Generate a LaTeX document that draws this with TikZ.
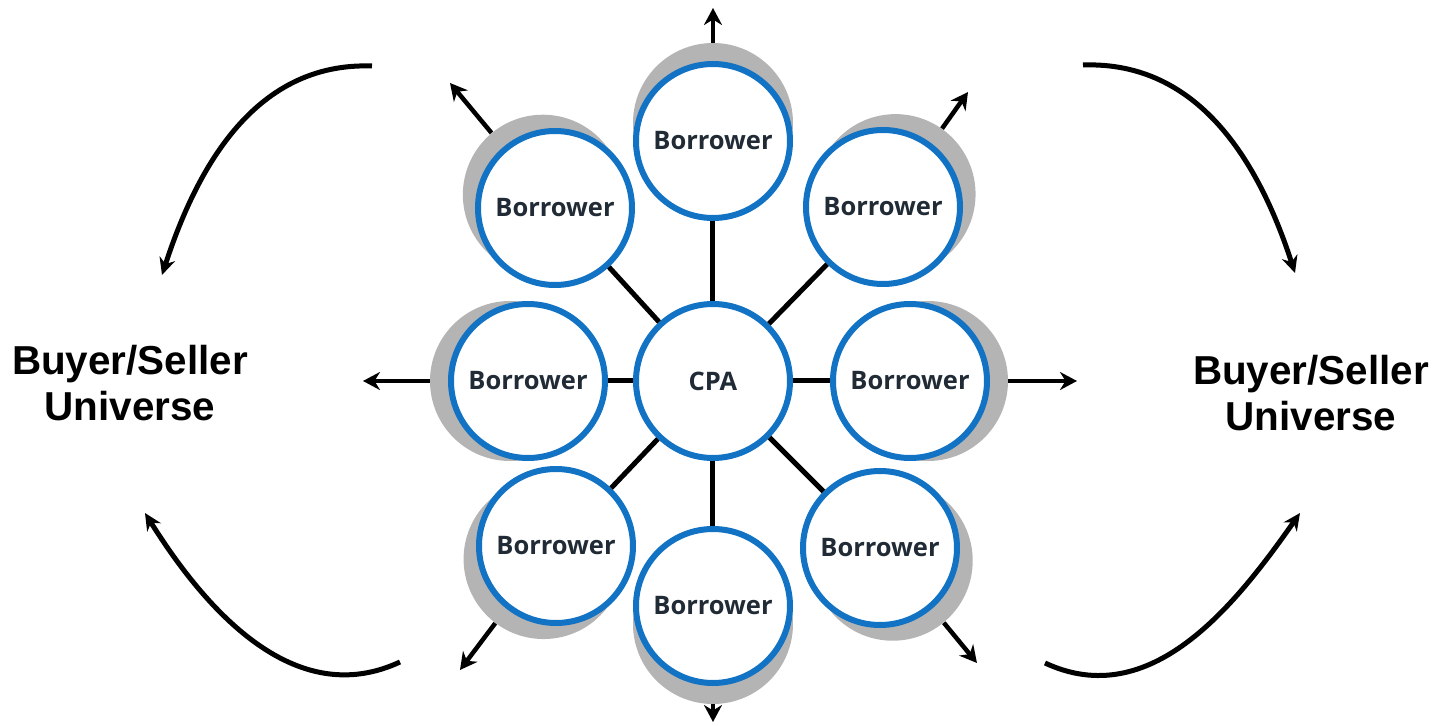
\documentclass[tikz,border=0pt]{standalone}
\usepackage{fontspec}
\setmainfont{Liberation Sans}
\newfontfamily\borrowerfont{Open Sans}
\usepackage{tikz}
\usetikzlibrary{arrows.meta,calc,positioning}
\definecolor{ringblue}{RGB}{18,114,196}
\definecolor{halogray}{RGB}{180,180,180}
\definecolor{labelink}{RGB}{33,43,54}
\tikzset{
  party/.style={circle,draw=ringblue,line width=.12cm,fill=white,
    minimum size=3.08cm,inner sep=0pt,text=labelink,
    font=\borrowerfont\bfseries\fontsize{14.5}{16}\selectfont},
  halo/.style={circle,fill=halogray,minimum size=3.2cm,inner sep=0pt},
  spoke/.style={line width=.1cm},
  outflow/.style={-{Stealth[length=.34cm,width=.36cm]},line width=.09cm},
  swing/.style={-{Stealth[length=.34cm,width=.32cm]},line width=.1cm},
  universe/.style={align=center,font=\bfseries\fontsize{23}{26}\selectfont},
}

\begin{document}
\begin{tikzpicture}

\useasboundingbox (-14.26,-6.90) rectangle (14.80,7.62);

% points
  \coordinate (pT)  at (0, 4.80);
  \coordinate (pTL) at (-3.16, 3.46);
  \coordinate (pTR) at (3.40, 3.48);
  \coordinate (pL)  at (-3.70, 0);
  \coordinate (pR)  at (3.94, 0);
  \coordinate (pBL) at (-3.14, -3.30);
  \coordinate (pB)  at (0, -4.50);
  \coordinate (pBR) at (3.34, -3.34);

% shadows
  \node[halo] (sT)  at ($(pT)!-.36cm!(0,0)$) {};
  \node[halo] (sTL) at ($(pTL)!-.36cm!(0,0)$) {};
  \node[halo] (sTR) at ($(pTR)!-.36cm!(0,0)$) {};
  \node[halo] (sL)  at ($(pL)!-.36cm!(0,0)$) {};
  \node[halo] (sR)  at ($(pR)!-.36cm!(0,0)$) {};
  \node[halo] (sBL) at ($(pBL)!-.36cm!(0,0)$) {};
  \node[halo] (sB)  at ($(pB)!-.36cm!(0,0)$) {};
  \node[halo] (sBR) at ($(pBR)!-.36cm!(0,0)$) {};

% circles
  \node[party] (cpa) at (0, 0) {CPA};
  \node[party] (T)  at (pT)  {Borrower};
  \node[party] (TL) at (pTL) {Borrower};
  \node[party] (TR) at (pTR) {Borrower};
  \node[party] (L)  at (pL)  {Borrower};
  \node[party] (R)  at (pR)  {Borrower};
  \node[party] (BL) at (pBL) {Borrower};
  \node[party] (B)  at (pB)  {Borrower};
  \node[party] (BR) at (pBR) {Borrower};

% spokes
  \draw[spoke] (cpa) -- (T);
  \draw[spoke] (cpa) -- (TL);
  \draw[spoke] (cpa) -- (TR);
  \draw[spoke] (cpa) -- (L);
  \draw[spoke] (cpa) -- (R);
  \draw[spoke] (cpa) -- (BL);
  \draw[spoke] (cpa) -- (B);
  \draw[spoke] (cpa) -- (BR);

% outward arrows
  \coordinate (tipT)  at (0, 7.46);
  \coordinate (tipTL) at (-5.26, 5.96);
  \coordinate (tipTR) at (5.10, 5.78);
  \coordinate (tipL)  at (-7.00, 0);
  \coordinate (tipR)  at (7.28, 0);
  \coordinate (tipBL) at (-5.06, -5.78);
  \coordinate (tipB)  at (0, -6.82);
  \coordinate (tipBR) at (5.28, -5.64);

  \draw[outflow] (sT) -- (tipT);
  \draw[outflow] (sTL) -- (tipTL);
  \draw[outflow] (sTR) -- (tipTR);
  \draw[outflow] (sL) -- (tipL);
  \draw[outflow] (sR) -- (tipR);
  \draw[outflow] (sBL) -- (tipBL);
  \draw[outflow] (sB) -- (tipB);
  \draw[outflow] (sBR) -- (tipBR);

%%%%%%%%%%%%%%
% Buyer/Seller Universe
%%%%%%%%%%%%%%
  \node[universe] (uniL) at (-11.66, -0.04) {Buyer/Seller\\Universe};
  \node[universe] (uniR) at (11.96, -0.24) {Buyer/Seller\\Universe};

  % curved arrows
  \coordinate (ltS) at (-6.82, 6.30);
  \coordinate (ltE) at (-11.02, 2.12);
  \coordinate (lbS) at (-6.26, -5.62);
  \coordinate (lbE) at (-11.36, -2.64);
  \coordinate (rtS) at (7.40, 6.32);
  \coordinate (rtE) at (11.64, 2.16);
  \coordinate (rbS) at (6.64, -5.64);
  \coordinate (rbE) at (11.74, -2.64);

  \draw[swing] (ltS) to[out=178,in=72] (ltE);
  \draw[swing] (lbS) to[out=205,in=-58] (lbE);
  \draw[swing] (rtS) to[out=2,in=108] (rtE);
  \draw[swing] (rbS) to[out=-25,in=235] (rbE);

\end{tikzpicture}
\end{document}
